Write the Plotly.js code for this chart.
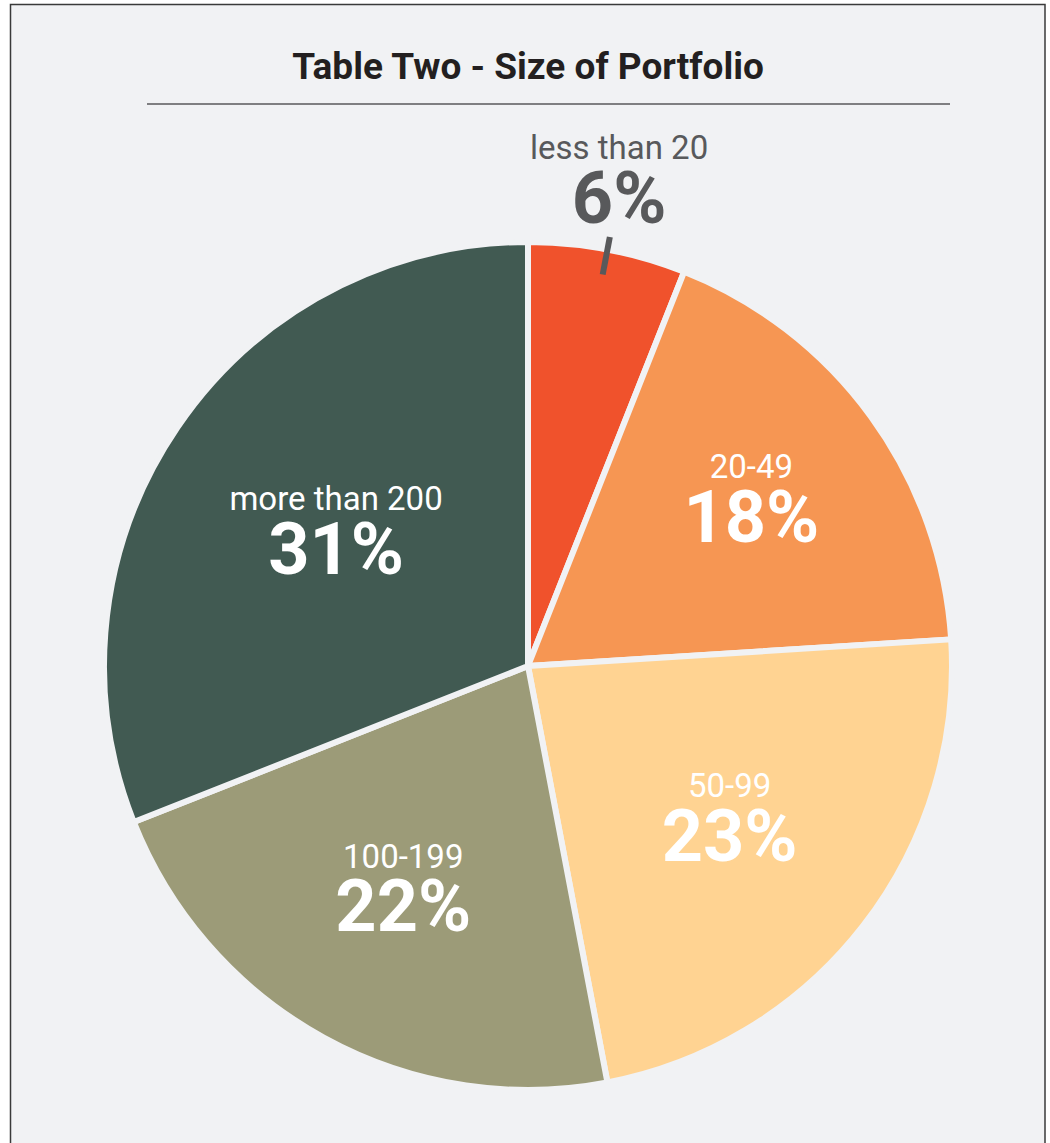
<!DOCTYPE html>
<html>
<head>
<meta charset="utf-8">
<script src="https://cdn.plot.ly/plotly-3.0.1.min.js"></script>
<style>
html,body{margin:0;padding:0;background:#ffffff;}
#chart{width:1050px;height:1143px;}
</style>
</head>
<body>
<div id="chart"></div>
<script>
// ---- data ----
var categories = ["less than 20", "20-49", "50-99", "100-199", "more than 200"];
var shares = [6, 18, 23, 22, 31];
var sliceColors = ["#F0522C", "#F69653", "#FFD392", "#9C9B78", "#415A52"];
var chartTitle = "Table Two - Size of Portfolio";

// ---- geometry of the pie area (px) ----
var W = 1050, H = 1143;
var M = {l: 104, r: 98, t: 242, b: 53};
var plotW = W - M.l - M.r, plotH = H - M.t - M.b;

var total = shares.reduce(function(a, b){ return a + b; }, 0);
var midAngle = (shares[0] / 2) / total * 2 * Math.PI;
var R = Math.min(plotW, plotH) / 2;
function toPaperX(r){ return 0.5 + r * R * Math.sin(midAngle) / plotW; }
function toPaperY(r){ return 0.5 + r * R * Math.cos(midAngle) / plotH; }

var nameSpan = function(t){ return "<span style='font-size:33px'>" + t + "</span>"; };
var pctSpan = function(t){ return "<span style='font-size:72px'><b>" + t + "</b></span>"; };

// the smallest slice is labelled outside (annotation), the others inside
var templates = categories.map(function(c, i){
  return i === 0 ? "" : nameSpan("%{label}") + "<br>" + pctSpan("%{percent:.0%}");
});

var trace = {
  type: "pie",
  labels: categories,
  values: shares,
  sort: false,
  direction: "clockwise",
  rotation: 0,
  hole: 0,
  marker: {colors: sliceColors, line: {color: "#F1F2F4", width: 6}},
  textposition: "inside",
  insidetextorientation: "horizontal",
  texttemplate: templates,
  textfont: {family: "Roboto, sans-serif", size: 49, color: "#FFFFFF"},
  insidetextfont: {family: "Roboto, sans-serif", size: 49, color: "#FFFFFF"},
  hoverinfo: "label+percent",
  showlegend: false
};

var layout = {
  width: W,
  height: H,
  margin: M,
  paper_bgcolor: "#FFFFFF",
  plot_bgcolor: "rgba(0,0,0,0)",
  showlegend: false,
  title: {
    text: "<b>" + chartTitle + "</b>",
    font: {family: "Roboto, sans-serif", size: 37, color: "#231F20"},
    x: 0.503, xref: "container", xanchor: "center",
    y: 1 - 66 / H, yref: "container", yanchor: "middle"
  },
  annotations: [
    {
      xref: "paper", yref: "paper",
      x: toPaperX(1.0), y: toPaperY(1.0),
      xanchor: "center", yanchor: "bottom",
      xshift: 12, yshift: 8,
      showarrow: false,
      borderpad: 0,
      text: nameSpan(categories[0]) + "<br>" + pctSpan(Math.round(shares[0] / total * 100) + "%"),
      font: {family: "Roboto, sans-serif", size: 49, color: "#58595B"}
    }
  ],
  shapes: [
    {
      type: "rect", xref: "paper", yref: "paper", layer: "below",
      x0: (10.5 - M.l) / plotW, x1: (1045 - M.l) / plotW,
      y0: (H - M.b - 1160) / plotH, y1: (H - M.b - 4.5) / plotH,
      fillcolor: "#F1F2F4", line: {color: "#3A3A3A", width: 1.5}
    },
    {
      type: "line", xref: "paper", yref: "paper",
      x0: (147 - M.l) / plotW, x1: (950 - M.l) / plotW,
      y0: (H - M.b - 104) / plotH, y1: (H - M.b - 104) / plotH,
      line: {color: "#58595B", width: 1.5}
    },
    {
      type: "line", xref: "paper", yref: "paper", layer: "above",
      x0: toPaperX(0.94), x1: toPaperX(1.03),
      y0: toPaperY(0.94), y1: toPaperY(1.03),
      line: {color: "#58595B", width: 6}
    }
  ]
};

Plotly.newPlot("chart", [trace], layout, {displayModeBar: false, staticPlot: true});
</script>
</body>
</html>
